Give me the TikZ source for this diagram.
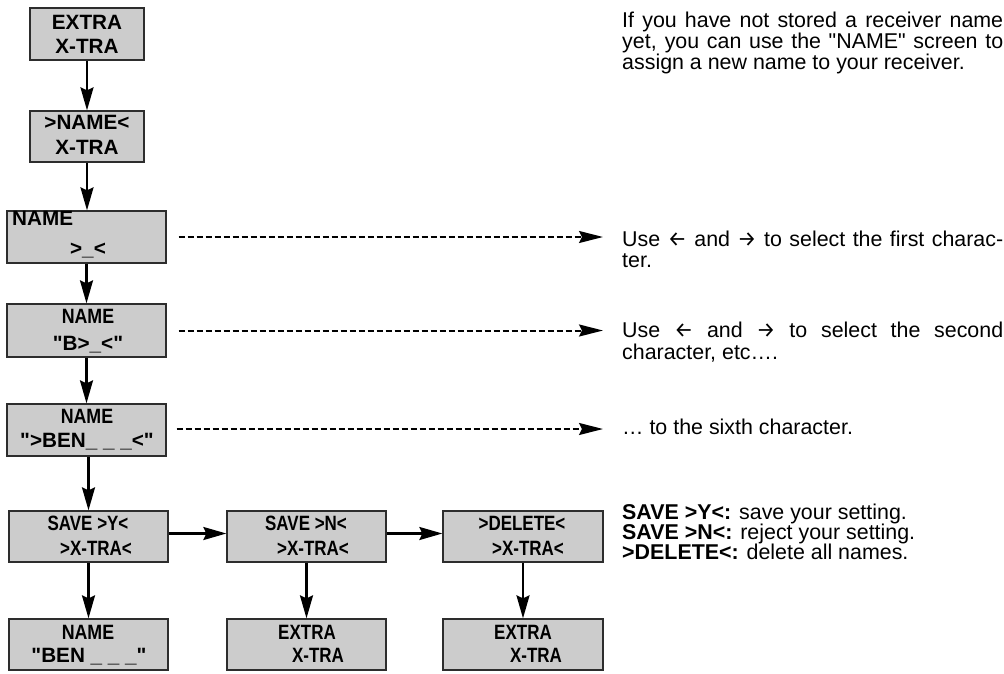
\documentclass[tikz,border=0pt]{standalone}
\usepackage{fontspec}
\setmainfont{Liberation Sans}[Ligatures=TeXOff]
\newfontfamily\arrowfont{Fira Sans}
\usepackage{graphicx}
\usetikzlibrary{arrows.meta}
\definecolor{boxgray}{RGB}{204,204,204}
\definecolor{boxline}{RGB}{45,45,45}
\newcommand{\cnd}[1]{\scalebox{0.82}[1]{#1}}
\newcommand{\cnn}[1]{\scalebox{0.86}[1]{#1}}
\newcommand{\jline}[1]{\makebox[381pt][s]{#1}}
\newcommand{\qq}{\char34\relax}
\newcommand{\larr}{{\arrowfont ←}}
\newcommand{\rarr}{{\arrowfont →}}
\begin{document}
\begin{tikzpicture}[x=1pt,y=-1pt,
  scrbox/.style={draw=boxline, line width=1.3pt, fill=boxgray, inner sep=0pt, minimum height=52pt},
  wide/.style={minimum width=159pt},
  narrow/.style={minimum width=114pt},
  btxt/.style={font=\bfseries\fontsize{20.7}{24}\selectfont, inner sep=0pt, anchor=base},
  ptxt/.style={font=\fontsize{21.4}{21}\selectfont, inner sep=0pt, anchor=base west},
  flow/.style={line width=2.3pt, -{Stealth[length=23pt,width=13pt,inset=3pt]}},
  dflow/.style={line width=2pt, dash pattern=on 6.5pt off 2.5pt, -{Stealth[length=24pt,width=12pt,inset=3pt]}},
]
\useasboundingbox (0,0) rectangle (1004,673);

% boxes
\node[scrbox,narrow] (b1) at (87,34) {};
\node[scrbox,narrow,minimum height=51pt] (b2) at (87,136.5) {};
\node[scrbox,wide] (b3) at (86.5,237) {};
\node[scrbox,wide,minimum height=53pt] (b4) at (86.5,330.5) {};
\node[scrbox,wide] (b5) at (86.5,430) {};
\node[scrbox,wide,minimum height=51pt] (r1) at (88.5,536.5) {};
\node[scrbox,wide,minimum height=51pt] (r2) at (306.5,536.5) {};
\node[scrbox,wide,minimum height=51pt,minimum width=160pt] (r3) at (523,536.5) {};
\node[scrbox,wide,minimum height=51pt] (d1) at (88.5,644.5) {};
\node[scrbox,wide,minimum height=51pt] (d2) at (306.5,644.5) {};
\node[scrbox,wide,minimum height=51pt,minimum width=160pt] (d3) at (523,644.5) {};

% box texts
\node[btxt] (b1a) at (87,29.4) {EXTRA};
\node[btxt] (b1b) at (87,53.4) {X-TRA};
\node[btxt] (b2a) at (87,129.4) {>NAME<};
\node[btxt] (b2b) at (87,154.4) {X-TRA};
\node[btxt,anchor=base west] (b3a) at (12,225.4) {NAME};
\node[btxt] (b3b) at (88,255.4) {>\_<};
\node[btxt] (b4a) at (88,323.4) {\cnn{NAME}};
\node[btxt] (b4b) at (88,350.4) {\qq B>\_<\qq};
\node[btxt] (b5a) at (87,423.4) {\cnn{NAME}};
\node[btxt] (b5b) at (87,447.4) {\qq>BEN\_ \_ \_<\qq};
\node[btxt] (r1a) at (88,530.4) {\cnd{SAVE >Y<}};
\node[btxt] (r1b) at (96,555.4) {\cnd{>X-TRA<}};
\node[btxt] (r2a) at (306,530.4) {\cnd{SAVE >N<}};
\node[btxt] (r2b) at (313,555.4) {\cnd{>X-TRA<}};
\node[btxt] (r3a) at (522,530.4) {\cnd{>DELETE<}};
\node[btxt] (r3b) at (528,555.4) {\cnd{>X-TRA<}};
\node[btxt] (d1a) at (88,639.4) {\cnn{NAME}};
\node[btxt] (d1b) at (89,662.4) {\qq BEN \_ \_ \_\qq};
\node[btxt] (d2a) at (307,639.4) {\cnd{EXTRA}};
\node[btxt] (d2b) at (318,662.4) {\cnd{X-TRA}};
\node[btxt] (d3a) at (523,639.4) {\cnd{EXTRA}};
\node[btxt] (d3b) at (536,662.4) {\cnd{X-TRA}};

% solid connectors
\draw[flow] (b1.south) -- (b2.north);
\draw[flow] (b2.south) -- (b2.south |- b3.north);
\draw[flow] (b3.south) -- (b4.north);
\draw[flow] (b4.south) -- (b5.north);
\draw[flow] (r1.north |- b5.south) -- (r1.north);
\draw[flow] (r1.south) -- (d1.north);
\draw[flow] (r2.south) -- (d2.north);
\draw[flow] (r3.south) -- (d3.north);
\draw[flow] ([yshift=3pt]r1.east) -- ([yshift=3pt]r2.west);
\draw[flow] ([yshift=3pt]r2.east) -- ([yshift=3pt]r3.west);

% dashed connectors
\coordinate (e3) at (603,237);
\coordinate (e4) at (603,330.5);
\coordinate (e5) at (603,429);
\draw[dflow] ([xshift=12pt]b3.east) -- (e3);
\draw[dflow] ([xshift=12pt]b4.east) -- (e4);
\draw[dflow] ([xshift=10pt,yshift=1pt]b5.east) -- (e5);

% right-hand texts
\node[ptxt] (t1a) at (622,27.7) {\jline{If you have not stored a receiver name}};
\node[ptxt] (t1b) at (622,48.7) {\jline{yet, you can use the \qq NAME\qq{} screen to}};
\node[ptxt] (t1c) at (622,69.7) {assign a new name to your receiver.};
\node[ptxt] (t2a) at (622,246.7) {\jline{Use \larr{} and \rarr{} to select the first charac-}};
\node[ptxt] (t2b) at (622,267.7) {ter.};
\node[ptxt] (t3a) at (622,337.7) {\jline{Use \larr{} and \rarr{} to select the second}};
\node[ptxt] (t3b) at (622,359.7) {character, etc….};
\node[ptxt] (t4) at (622,434.7) {… to the sixth character.};
\node[ptxt] (t5a) at (622,519.7) {\textbf{SAVE >Y<:} save your setting.};
\node[ptxt] (t5b) at (622,539.7) {\textbf{SAVE >N<:} reject your setting.};
\node[ptxt] (t5c) at (622,559.7) {\textbf{>DELETE<:} delete all names.};
\end{tikzpicture}
\end{document}
